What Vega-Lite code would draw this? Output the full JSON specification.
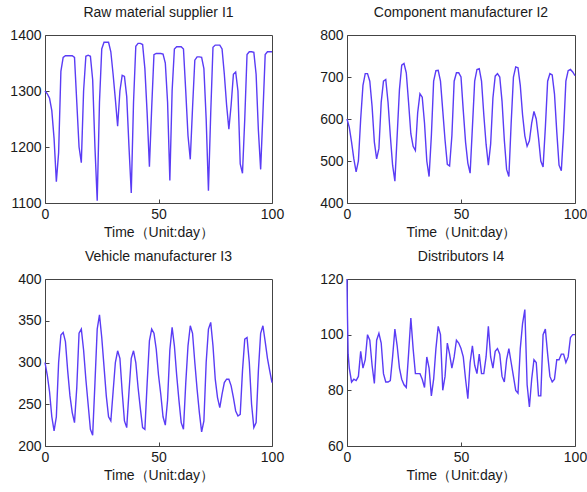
{
  "$schema": "https://vega.github.io/schema/vega-lite/v6.json",
  "background": "white",
  "padding": {"left": 9, "top": 5, "right": 5, "bottom": 5},
  "bounds": "flush",
  "columns": 2,
  "spacing": {"row": 76, "column": 75},
  "datasets": {
    "p1": [
      {"t":0,"v":1300},{"t":1,"v":1295},{"t":2,"v":1287},{"t":3,"v":1265},{"t":4,"v":1215},{"t":5,"v":1138},{"t":6,"v":1190},{"t":7,"v":1335},{"t":8,"v":1360},{"t":9,"v":1363},
      {"t":10,"v":1363},{"t":11,"v":1363},{"t":12,"v":1363},{"t":13,"v":1360},{"t":14,"v":1280},{"t":15,"v":1200},{"t":16,"v":1172},{"t":17,"v":1300},{"t":18,"v":1362},{"t":19,"v":1364},
      {"t":20,"v":1362},{"t":21,"v":1320},{"t":22,"v":1200},{"t":23,"v":1104},{"t":24,"v":1280},{"t":25,"v":1375},{"t":26,"v":1387},{"t":27,"v":1387},{"t":28,"v":1387},{"t":29,"v":1370},
      {"t":30,"v":1330},{"t":31,"v":1285},{"t":32,"v":1237},{"t":33,"v":1300},{"t":34,"v":1328},{"t":35,"v":1326},{"t":36,"v":1290},{"t":37,"v":1200},{"t":38,"v":1118},{"t":39,"v":1280},
      {"t":40,"v":1380},{"t":41,"v":1385},{"t":42,"v":1385},{"t":43,"v":1383},{"t":44,"v":1340},{"t":45,"v":1260},{"t":46,"v":1165},{"t":47,"v":1270},{"t":48,"v":1365},{"t":49,"v":1367},
      {"t":50,"v":1367},{"t":51,"v":1367},{"t":52,"v":1366},{"t":53,"v":1350},{"t":54,"v":1280},{"t":55,"v":1140},{"t":56,"v":1300},{"t":57,"v":1375},{"t":58,"v":1379},{"t":59,"v":1379},
      {"t":60,"v":1379},{"t":61,"v":1375},{"t":62,"v":1300},{"t":63,"v":1220},{"t":64,"v":1178},{"t":65,"v":1270},{"t":66,"v":1355},{"t":67,"v":1361},{"t":68,"v":1361},{"t":69,"v":1360},
      {"t":70,"v":1340},{"t":71,"v":1250},{"t":72,"v":1122},{"t":73,"v":1260},{"t":74,"v":1378},{"t":75,"v":1382},{"t":76,"v":1382},{"t":77,"v":1382},{"t":78,"v":1375},{"t":79,"v":1330},
      {"t":80,"v":1275},{"t":81,"v":1232},{"t":82,"v":1275},{"t":83,"v":1330},{"t":84,"v":1334},{"t":85,"v":1300},{"t":86,"v":1170},{"t":87,"v":1153},{"t":88,"v":1250},{"t":89,"v":1365},
      {"t":90,"v":1370},{"t":91,"v":1370},{"t":92,"v":1369},{"t":93,"v":1330},{"t":94,"v":1230},{"t":95,"v":1160},{"t":96,"v":1260},{"t":97,"v":1365},{"t":98,"v":1370},{"t":99,"v":1370},
      {"t":100,"v":1370}
    ],
    "p2": [
      {"t":0,"v":600},{"t":1,"v":580},{"t":2,"v":545},{"t":3,"v":505},{"t":4,"v":474},{"t":5,"v":500},{"t":6,"v":600},{"t":7,"v":680},{"t":8,"v":708},{"t":9,"v":708},
      {"t":10,"v":690},{"t":11,"v":630},{"t":12,"v":545},{"t":13,"v":505},{"t":14,"v":530},{"t":15,"v":640},{"t":16,"v":690},{"t":17,"v":694},{"t":18,"v":640},{"t":19,"v":560},
      {"t":20,"v":490},{"t":21,"v":452},{"t":22,"v":560},{"t":23,"v":670},{"t":24,"v":728},{"t":25,"v":732},{"t":26,"v":710},{"t":27,"v":640},{"t":28,"v":565},{"t":29,"v":535},
      {"t":30,"v":525},{"t":31,"v":615},{"t":32,"v":660},{"t":33,"v":652},{"t":34,"v":590},{"t":35,"v":500},{"t":36,"v":463},{"t":37,"v":560},{"t":38,"v":690},{"t":39,"v":715},
      {"t":40,"v":716},{"t":41,"v":690},{"t":42,"v":620},{"t":43,"v":550},{"t":44,"v":492},{"t":45,"v":488},{"t":46,"v":560},{"t":47,"v":690},{"t":48,"v":710},{"t":49,"v":710},
      {"t":50,"v":700},{"t":51,"v":620},{"t":52,"v":545},{"t":53,"v":495},{"t":54,"v":471},{"t":55,"v":580},{"t":56,"v":690},{"t":57,"v":718},{"t":58,"v":720},{"t":59,"v":690},
      {"t":60,"v":610},{"t":61,"v":540},{"t":62,"v":490},{"t":63,"v":540},{"t":64,"v":650},{"t":65,"v":702},{"t":66,"v":708},{"t":67,"v":700},{"t":68,"v":642},{"t":69,"v":550},
      {"t":70,"v":480},{"t":71,"v":463},{"t":72,"v":590},{"t":73,"v":700},{"t":74,"v":724},{"t":75,"v":722},{"t":76,"v":680},{"t":77,"v":610},{"t":78,"v":560},{"t":79,"v":535},
      {"t":80,"v":548},{"t":81,"v":590},{"t":82,"v":618},{"t":83,"v":600},{"t":84,"v":555},{"t":85,"v":500},{"t":86,"v":486},{"t":87,"v":580},{"t":88,"v":690},{"t":89,"v":708},
      {"t":90,"v":705},{"t":91,"v":660},{"t":92,"v":570},{"t":93,"v":490},{"t":94,"v":477},{"t":95,"v":570},{"t":96,"v":690},{"t":97,"v":715},{"t":98,"v":718},{"t":99,"v":712},
      {"t":100,"v":703}
    ],
    "p3": [
      {"t":0,"v":300},{"t":1,"v":285},{"t":2,"v":265},{"t":3,"v":235},{"t":4,"v":218},{"t":5,"v":235},{"t":6,"v":300},{"t":7,"v":333},{"t":8,"v":336},{"t":9,"v":325},
      {"t":10,"v":290},{"t":11,"v":260},{"t":12,"v":240},{"t":13,"v":228},{"t":14,"v":270},{"t":15,"v":335},{"t":16,"v":340},{"t":17,"v":315},{"t":18,"v":280},{"t":19,"v":250},
      {"t":20,"v":220},{"t":21,"v":213},{"t":22,"v":275},{"t":23,"v":340},{"t":24,"v":357},{"t":25,"v":330},{"t":26,"v":295},{"t":27,"v":260},{"t":28,"v":235},{"t":29,"v":230},
      {"t":30,"v":265},{"t":31,"v":300},{"t":32,"v":314},{"t":33,"v":305},{"t":34,"v":265},{"t":35,"v":230},{"t":36,"v":222},{"t":37,"v":265},{"t":38,"v":305},{"t":39,"v":314},
      {"t":40,"v":300},{"t":41,"v":270},{"t":42,"v":245},{"t":43,"v":222},{"t":44,"v":220},{"t":45,"v":275},{"t":46,"v":326},{"t":47,"v":340},{"t":48,"v":335},{"t":49,"v":316},
      {"t":50,"v":285},{"t":51,"v":262},{"t":52,"v":235},{"t":53,"v":225},{"t":54,"v":255},{"t":55,"v":315},{"t":56,"v":342},{"t":57,"v":320},{"t":58,"v":285},{"t":59,"v":255},
      {"t":60,"v":228},{"t":61,"v":220},{"t":62,"v":275},{"t":63,"v":320},{"t":64,"v":344},{"t":65,"v":335},{"t":66,"v":300},{"t":67,"v":268},{"t":68,"v":240},{"t":69,"v":217},
      {"t":70,"v":230},{"t":71,"v":300},{"t":72,"v":340},{"t":73,"v":348},{"t":74,"v":320},{"t":75,"v":280},{"t":76,"v":258},{"t":77,"v":246},{"t":78,"v":262},{"t":79,"v":276},
      {"t":80,"v":280},{"t":81,"v":280},{"t":82,"v":272},{"t":83,"v":258},{"t":84,"v":242},{"t":85,"v":236},{"t":86,"v":238},{"t":87,"v":290},{"t":88,"v":328},{"t":89,"v":330},
      {"t":90,"v":300},{"t":91,"v":250},{"t":92,"v":222},{"t":93,"v":228},{"t":94,"v":290},{"t":95,"v":335},{"t":96,"v":344},{"t":97,"v":325},{"t":98,"v":305},{"t":99,"v":290},
      {"t":100,"v":276}
    ],
    "p4": [
      {"t":0,"v":120},{"t":0.2,"v":107},{"t":0.5,"v":93},{"t":1,"v":88},{"t":2,"v":83},{"t":3,"v":84},{"t":4,"v":83.5},{"t":5,"v":85},{"t":6,"v":94},{"t":7,"v":88},{"t":8,"v":91},{"t":9,"v":100},
      {"t":10,"v":98},{"t":11,"v":89},{"t":12,"v":82.5},{"t":13,"v":98},{"t":14,"v":100.5},{"t":15,"v":97},{"t":16,"v":86},{"t":17,"v":83},{"t":18,"v":83},{"t":19,"v":83.5},
      {"t":20,"v":92},{"t":21,"v":102},{"t":22,"v":96},{"t":23,"v":88},{"t":24,"v":84},{"t":25,"v":82},{"t":26,"v":81},{"t":27,"v":93},{"t":28,"v":106},{"t":29,"v":95},
      {"t":30,"v":86},{"t":31,"v":86},{"t":32,"v":86},{"t":33,"v":84},{"t":34,"v":81},{"t":35,"v":92},{"t":36,"v":88},{"t":37,"v":78},{"t":38,"v":84},{"t":39,"v":95},
      {"t":40,"v":103},{"t":41,"v":100},{"t":42,"v":80},{"t":43,"v":85},{"t":44,"v":97},{"t":45,"v":93},{"t":46,"v":88},{"t":47,"v":92},{"t":48,"v":98},{"t":49,"v":97},
      {"t":50,"v":95},{"t":51,"v":92},{"t":52,"v":84},{"t":53,"v":77},{"t":54,"v":90},{"t":55,"v":96},{"t":56,"v":89},{"t":57,"v":86},{"t":58,"v":93},{"t":59,"v":86},
      {"t":60,"v":86},{"t":61,"v":92},{"t":62,"v":103},{"t":63,"v":92},{"t":64,"v":88},{"t":65,"v":94},{"t":66,"v":95},{"t":67,"v":93},{"t":68,"v":85},{"t":69,"v":83},
      {"t":70,"v":91},{"t":71,"v":95},{"t":72,"v":90},{"t":73,"v":85},{"t":74,"v":80},{"t":75,"v":79},{"t":76,"v":95},{"t":77,"v":104},{"t":78,"v":109},{"t":79,"v":82},
      {"t":80,"v":74},{"t":81,"v":84},{"t":82,"v":91},{"t":83,"v":90},{"t":84,"v":78},{"t":85,"v":78},{"t":86,"v":100},{"t":87,"v":102},{"t":88,"v":93},{"t":89,"v":85},
      {"t":90,"v":83},{"t":91,"v":84},{"t":92,"v":91},{"t":93,"v":91},{"t":94,"v":93},{"t":95,"v":93},{"t":96,"v":90},{"t":97,"v":92},{"t":98,"v":99},{"t":99,"v":100},
      {"t":100,"v":100}
    ]
  },
  "concat": [
    {
      "width": 227, "height": 168,
      "title": "Raw material supplier I1",
      "data": {"name": "p1"},
      "mark": {"type": "line", "color": "#5a3cf5", "strokeWidth": 1.4},
      "encoding": {
        "x": {"field": "t", "type": "quantitative", "scale": {"domain": [0, 100]}, "axis": {"values": [0, 50, 100], "title": "Time（Unit:day）"}},
        "y": {"field": "v", "type": "quantitative", "scale": {"domain": [1100, 1400]}, "axis": {"values": [1100, 1200, 1300, 1400], "format": "d", "title": null}}
      }
    },
    {
      "width": 228, "height": 168,
      "title": "Component manufacturer I2",
      "data": {"name": "p2"},
      "mark": {"type": "line", "color": "#5a3cf5", "strokeWidth": 1.4},
      "encoding": {
        "x": {"field": "t", "type": "quantitative", "scale": {"domain": [0, 100]}, "axis": {"values": [0, 50, 100], "title": "Time（Unit:day）"}},
        "y": {"field": "v", "type": "quantitative", "scale": {"domain": [400, 800]}, "axis": {"values": [400, 500, 600, 700, 800], "format": "d", "title": null}}
      }
    },
    {
      "width": 227, "height": 167,
      "title": "Vehicle manufacturer I3",
      "data": {"name": "p3"},
      "mark": {"type": "line", "color": "#5a3cf5", "strokeWidth": 1.4},
      "encoding": {
        "x": {"field": "t", "type": "quantitative", "scale": {"domain": [0, 100]}, "axis": {"values": [0, 50, 100], "title": "Time（Unit:day）"}},
        "y": {"field": "v", "type": "quantitative", "scale": {"domain": [200, 400]}, "axis": {"values": [200, 250, 300, 350, 400], "format": "d", "title": null}}
      }
    },
    {
      "width": 228, "height": 167,
      "title": "Distributors I4",
      "data": {"name": "p4"},
      "mark": {"type": "line", "color": "#5a3cf5", "strokeWidth": 1.4},
      "encoding": {
        "x": {"field": "t", "type": "quantitative", "scale": {"domain": [0, 100]}, "axis": {"values": [0, 50, 100], "title": "Time（Unit:day）"}},
        "y": {"field": "v", "type": "quantitative", "scale": {"domain": [60, 120]}, "axis": {"values": [60, 80, 100, 120], "format": "d", "title": null}}
      }
    }
  ],
  "config": {
    "font": "Liberation Sans",
    "view": {"stroke": "#444444", "strokeWidth": 1},
    "title": {"fontSize": 14, "fontWeight": "normal", "color": "#1a1a1a", "offset": 8, "anchor": "middle"},
    "axis": {
      "grid": false,
      "domain": false,
      "ticks": true,
      "tickSize": -4,
      "tickColor": "#444444",
      "labelFontSize": 14,
      "labelColor": "#1a1a1a",
      "labelPadding": 8,
      "labelFlush": false,
      "labelOverlap": false,
      "titleFontSize": 14,
      "titleFontWeight": "normal",
      "titleColor": "#1a1a1a",
      "titlePadding": 4
    }
  }
}
